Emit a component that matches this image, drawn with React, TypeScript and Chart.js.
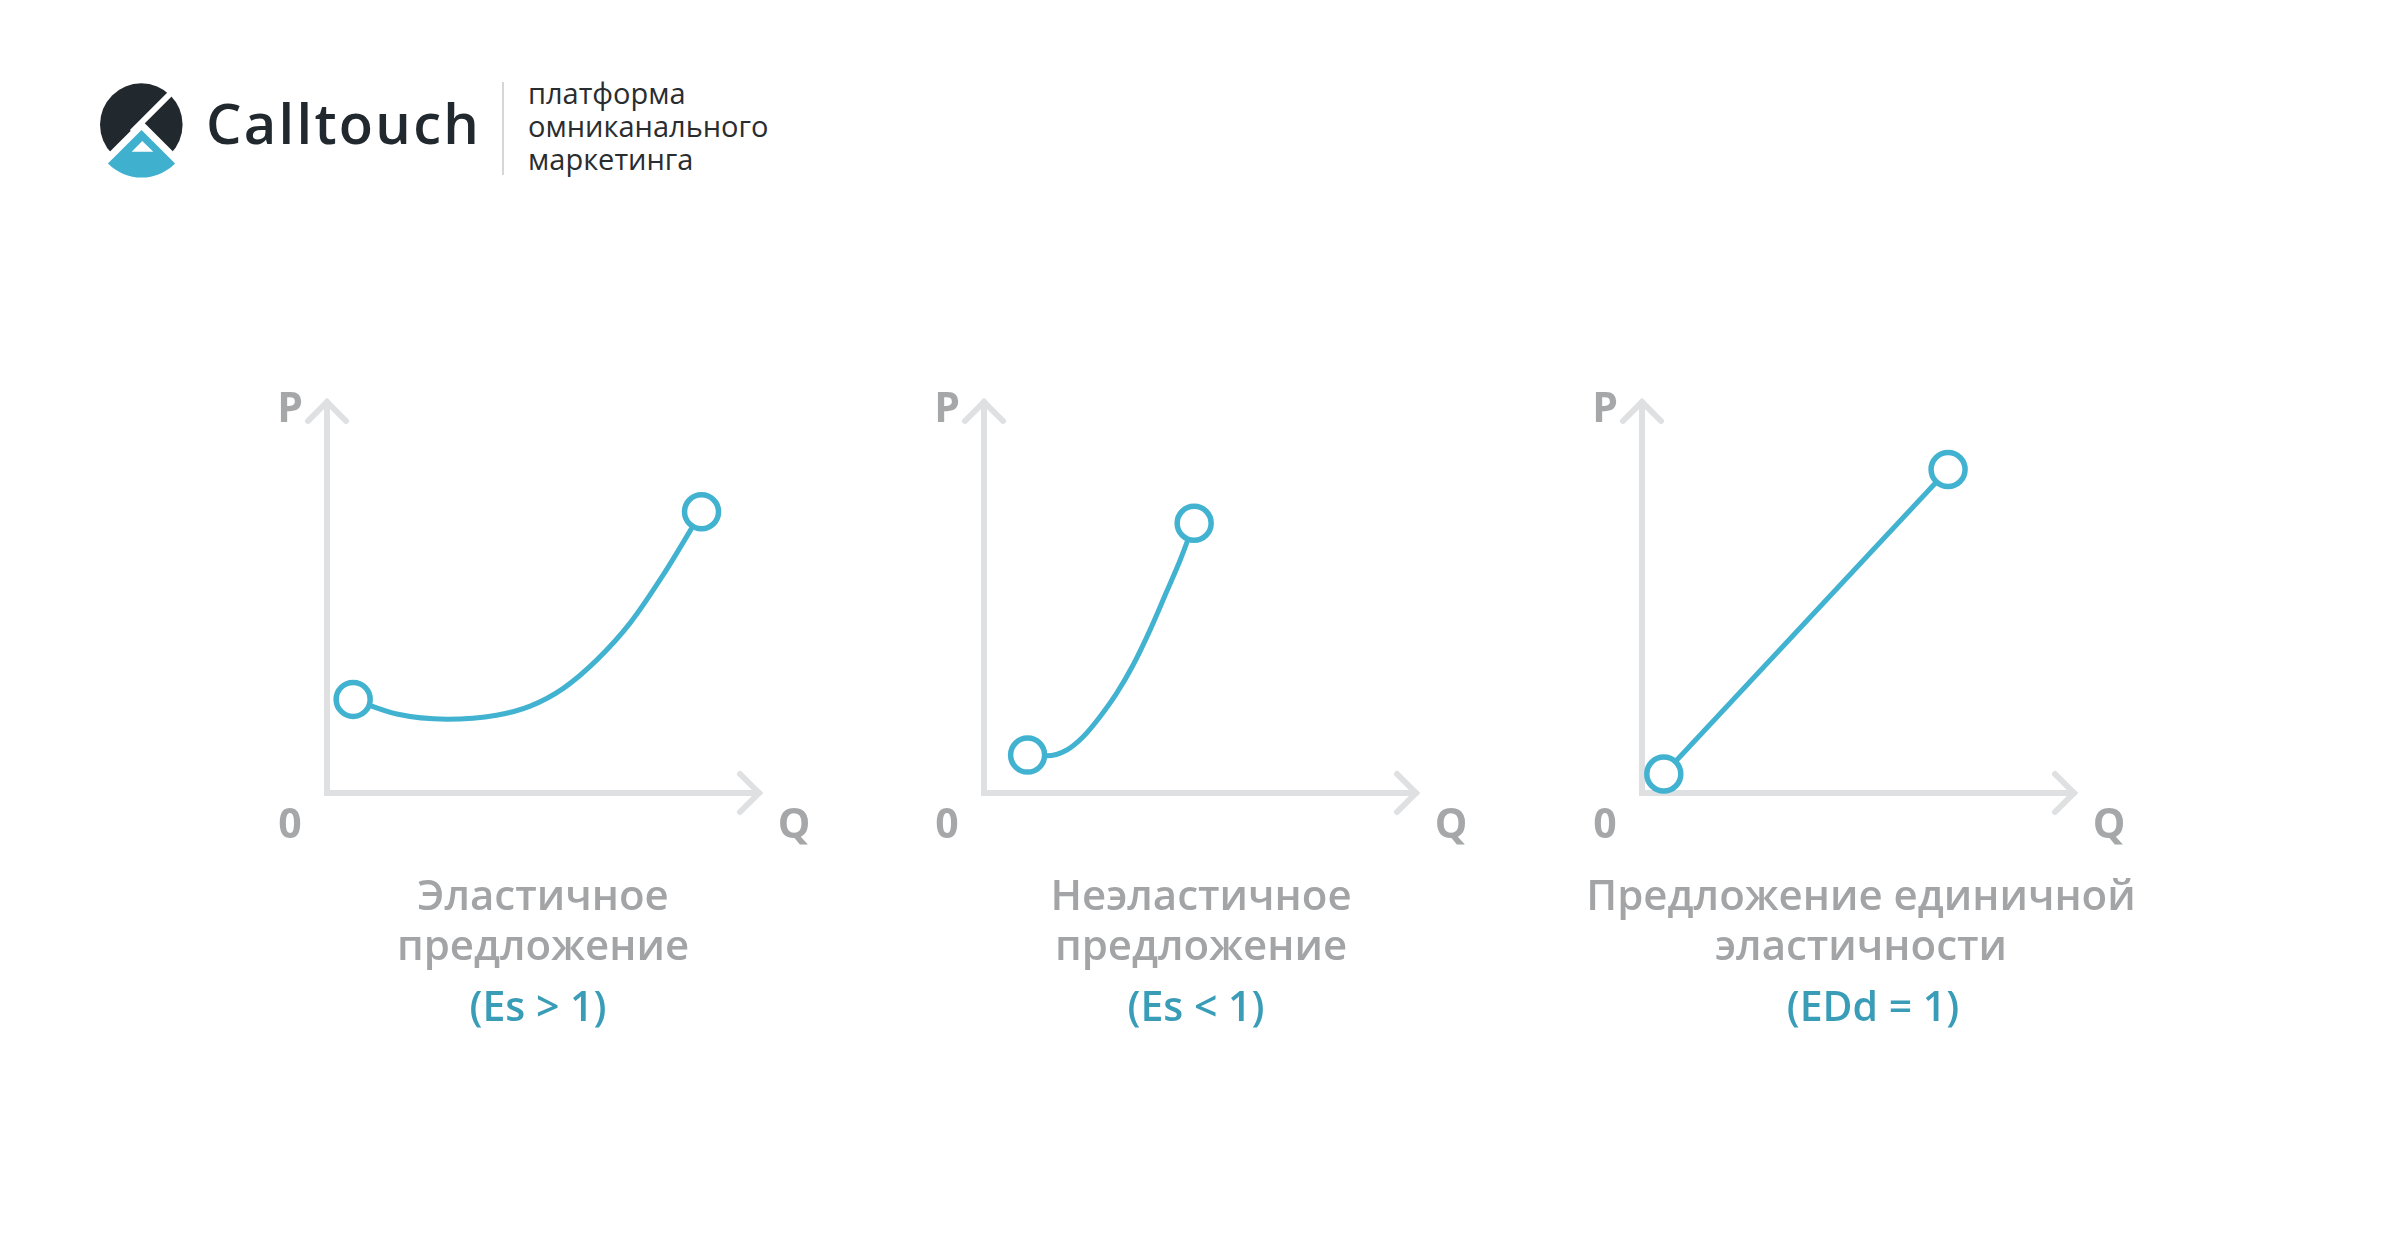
import React, { useEffect, useRef } from 'react';
import { Chart, registerables } from 'chart.js';

Chart.register(...registerables);

// ---------- data ----------
const ELASTIC_Q = [6.0, 16.0, 27.5, 38.9, 46.6, 54.2, 61.9, 69.5, 77.1, 85.9];
const ELASTIC_P = [23.7, 20.0, 18.7, 19.7, 22.0, 26.5, 33.7, 43.0, 55.2, 71.2];

const INELASTIC_Q = [10.0, 14.4, 19.0, 22.8, 26.6, 30.4, 34.2, 38.1, 41.9, 45.0, 46.9, 48.2];
const INELASTIC_P = [9.6, 9.4, 10.9, 14.3, 19.3, 25.2, 32.4, 41.3, 51.0, 59.0, 64.5, 68.3];

const UNIT_Q = [5.0, 70.2];
const UNIT_P = [4.8, 81.9];

const AXIS_P = 'P';
const AXIS_ZERO = '0';
const AXIS_Q = 'Q';

const TITLES = [
  ['Эластичное', 'предложение'],
  ['Неэластичное', 'предложение'],
  ['Предложение единичной', 'эластичности'],
];
const FORMULAS = ['(Es > 1)', '(Es < 1)', '(EDd = 1)'];

const BRAND = 'Calltouch';
const BRAND_SUB = ['платформа', 'омниканального', 'маркетинга'];

// ---------- style ----------
const LINE_COLOR = '#41b2d0';
const AXIS_COLOR = '#dfe0e1';
const LABEL_COLOR = '#a6a7a9';
const TITLE_COLOR = '#a3a4a6';
const ACCENT_COLOR = '#3a9db8';
const DARK = '#22292e';

const PANEL_X = [327, 984, 1642];
const TITLE_CX = [543, 1201, 1861];
const FORMULA_CX = [538, 1196, 1873];
const AXIS_BOTTOM = 793;
const AXIS_TOP = 398;
const AXIS_W = 436;
const CANVAS_TOP = 340;
const CANVAS_W = 600;
const CANVAS_H = 540;
const PAD_LEFT = 80;

const axesPlugin = {
  id: 'pqAxes',
  beforeDatasetsDraw(chart: any) {
    const { ctx } = chart;
    const xs = chart.scales.x;
    const ys = chart.scales.y;
    const x0 = xs.getPixelForValue(0);
    const y0 = ys.getPixelForValue(0);
    const xEnd = xs.getPixelForValue(100);
    const yEnd = ys.getPixelForValue(100);
    ctx.save();
    ctx.strokeStyle = AXIS_COLOR;
    ctx.lineWidth = 6;
    ctx.lineCap = 'round';
    ctx.lineJoin = 'miter';
    ctx.beginPath();
    ctx.moveTo(x0, yEnd + 4);
    ctx.lineTo(x0, y0);
    ctx.lineTo(xEnd - 4, y0);
    ctx.stroke();
    ctx.beginPath();
    ctx.moveTo(x0 - 19, yEnd + 23);
    ctx.lineTo(x0, yEnd + 4);
    ctx.lineTo(x0 + 19, yEnd + 23);
    ctx.stroke();
    ctx.beginPath();
    ctx.moveTo(xEnd - 23, y0 - 19);
    ctx.lineTo(xEnd - 4, y0);
    ctx.lineTo(xEnd - 23, y0 + 19);
    ctx.stroke();
    ctx.fillStyle = LABEL_COLOR;
    ctx.font = '700 41px "Open Sans"';
    ctx.textAlign = 'center';
    ctx.textBaseline = 'alphabetic';
    ctx.fillText(AXIS_P, x0 - 37, yEnd + 24);
    ctx.fillText(AXIS_ZERO, x0 - 37, y0 + 45);
    ctx.fillText(AXIS_Q, xEnd + 31, y0 + 45);
    ctx.restore();
  },
};

function Panel({ q, p, smooth, x0 }: { q: number[]; p: number[]; smooth: boolean; x0: number }) {
  const ref = useRef<HTMLCanvasElement | null>(null);
  useEffect(() => {
    if (!ref.current) return;
    const n = q.length;
    const radius = (c: any) => (c.dataIndex === 0 || c.dataIndex === n - 1 ? 17 : 0);
    const chart = new Chart(ref.current, {
      type: 'line',
      data: {
        datasets: [
          {
            data: q.map((v, i) => ({ x: v, y: p[i] })),
            borderColor: LINE_COLOR,
            borderWidth: 5,
            pointRadius: radius,
            pointHoverRadius: radius,
            pointBackgroundColor: '#ffffff',
            pointBorderColor: LINE_COLOR,
            pointBorderWidth: 5.5,
            cubicInterpolationMode: smooth ? 'monotone' : 'default',
            tension: 0,
            fill: false,
            clip: false,
          } as any,
        ],
      },
      options: {
        animation: false,
        responsive: false,
        events: [],
        layout: {
          padding: {
            left: PAD_LEFT,
            right: CANVAS_W - PAD_LEFT - AXIS_W,
            top: AXIS_TOP - CANVAS_TOP,
            bottom: CANVAS_TOP + CANVAS_H - AXIS_BOTTOM,
          },
        },
        scales: {
          x: { type: 'linear', min: 0, max: 100, display: false },
          y: { type: 'linear', min: 0, max: 100, display: false },
        },
        plugins: { legend: { display: false }, tooltip: { enabled: false }, title: { display: false } },
      },
      plugins: [axesPlugin],
    });
    return () => chart.destroy();
  }, [q, p, smooth]);
  return (
    <canvas
      ref={ref}
      width={CANVAS_W}
      height={CANVAS_H}
      style={{ position: 'absolute', left: x0 - PAD_LEFT, top: CANVAS_TOP, width: CANVAS_W, height: CANVAS_H }}
    />
  );
}

function TextLine({ text, cx, baseline, size, color, weight }: any) {
  return (
    <div
      style={{
        position: 'absolute',
        left: cx - 500,
        width: 1000,
        top: baseline - 0.888 * size,
        fontFamily: '"Open Sans", sans-serif',
        fontSize: size,
        lineHeight: `${size}px`,
        fontWeight: weight,
        color,
        textAlign: 'center',
        whiteSpace: 'nowrap',
      }}
    >
      {text}
    </div>
  );
}

function Logo() {
  return (
    <>
      <svg
        width={110}
        height={115}
        viewBox="0 0 110 115"
        style={{ position: 'absolute', left: 90, top: 70 }}
      >
        <circle cx={51.3} cy={54.6} r={41.3} fill={DARK} />
        <line x1={42} y1={62} x2={100} y2={4} stroke="#fff" strokeWidth={6} />
        <path
          d="M51.5 60 L17.9 93.6 A47.5 47.5 0 0 0 85.1 93.6 Z"
          fill="none"
          stroke="#fff"
          strokeWidth={14}
          strokeLinejoin="miter"
        />
        <path d="M51.5 60 L17.9 93.6 A47.5 47.5 0 0 0 85.1 93.6 Z" fill="#3fb1cf" />
        <path d="M41.7 81.7 L63.3 81.7 L52.3 71 Z" fill="#fff" />
      </svg>
      <div
        style={{
          position: 'absolute',
          left: 206,
          top: 144 - 0.888 * 56,
          fontFamily: '"Open Sans", sans-serif',
          fontWeight: 600,
          fontSize: 56,
          lineHeight: '56px',
          letterSpacing: 2.3,
          color: DARK,
          whiteSpace: 'nowrap',
        }}
      >
        {BRAND}
      </div>
      <div style={{ position: 'absolute', left: 502, top: 82, width: 2, height: 93, background: '#d6d6d6' }} />
      {BRAND_SUB.map((t, i) => (
        <div
          key={t}
          style={{
            position: 'absolute',
            left: 528,
            top: [104, 137, 170][i] - 0.888 * 29,
            fontFamily: '"Open Sans", sans-serif',
            fontWeight: 400,
            fontSize: 29,
            lineHeight: '29px',
            color: '#2a2d30',
            whiteSpace: 'nowrap',
          }}
        >
          {t}
        </div>
      ))}
    </>
  );
}

export default function App() {
  useEffect(() => {
    document.body.style.margin = '0';
    document.body.style.overflow = 'hidden';
  }, []);
  const series = [
    { q: ELASTIC_Q, p: ELASTIC_P, smooth: true },
    { q: INELASTIC_Q, p: INELASTIC_P, smooth: true },
    { q: UNIT_Q, p: UNIT_P, smooth: false },
  ];
  return (
    <div style={{ position: 'absolute', left: 0, top: 0, width: 2400, height: 1248, background: '#fff', overflow: 'hidden' }}>
      <Logo />
      {series.map((s, i) => (
        <Panel key={i} q={s.q} p={s.p} smooth={s.smooth} x0={PANEL_X[i]} />
      ))}
      {TITLES.map((lines, i) => (
        <React.Fragment key={i}>
          <TextLine text={lines[0]} cx={TITLE_CX[i]} baseline={910} size={42} color={TITLE_COLOR} weight={600} />
          <TextLine text={lines[1]} cx={TITLE_CX[i]} baseline={960} size={42} color={TITLE_COLOR} weight={600} />
          <TextLine text={FORMULAS[i]} cx={FORMULA_CX[i]} baseline={1021} size={41} color={ACCENT_COLOR} weight={600} />
        </React.Fragment>
      ))}
    </div>
  );
}
